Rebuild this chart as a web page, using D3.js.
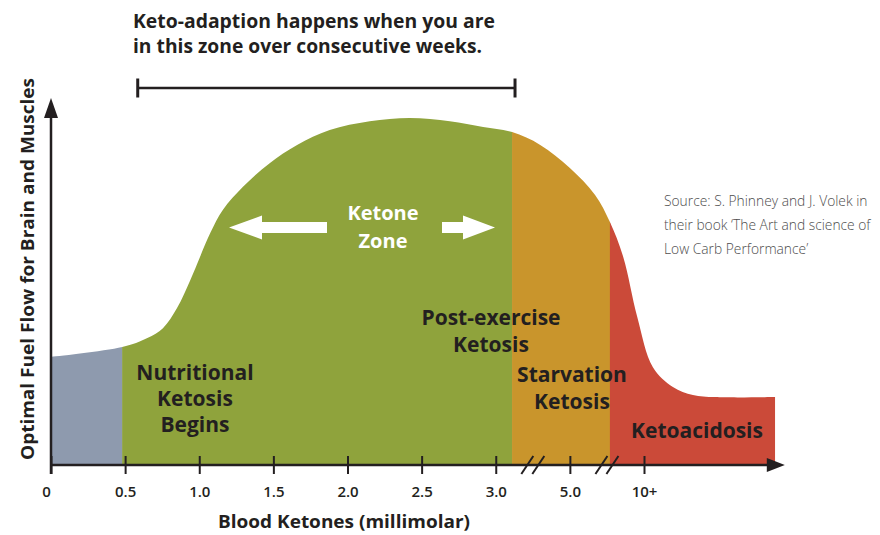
<!DOCTYPE html>
<html lang="en">
  <head>
    <meta charset="UTF-8" />
    <title>Blood Ketones vs Optimal Fuel Flow</title>
    <script src="https://d3js.org/d3.v7.min.js"></script>
    <style>
      body {
        margin: 0;
        background: #fff;
        font-family: 'Open Sans', sans-serif;
      }
      .dark {
        fill: #231f20;
        font-weight: bold;
      }
    </style>
  </head>
  <body>
    <svg width="880" height="535"></svg>

    <script>
      // tick positions are evenly spaced, the axis is broken after 3.0 and 5.0
      const tickLabels = ['0', '0.5', '1.0', '1.5', '2.0', '2.5', '3.0', '5.0', '10+'];
      const axisBreaks = [6.5, 7.5];

      // fuel flow curve (x in tick units, y in 0-100)
      const curveX = [0, 0.96, 1.3, 1.51, 1.7, 1.88, 2.01, 2.15, 2.32, 2.59, 2.95, 3.32, 3.76, 4.3, 4.84, 5.38, 5.83, 6.22, 6.6, 7.0, 7.34, 7.54, 7.72, 7.91, 8.12, 8.39, 8.66, 8.96, 9.77];
      const curveY = [29.6, 32.3, 34.8, 37.5, 43.0, 50.7, 57.0, 63.6, 69.9, 76.2, 82.7, 87.7, 91.8, 94.2, 95.1, 94.2, 92.6, 91.2, 87.7, 81.4, 74.0, 66.6, 57.0, 40.5, 26.8, 21.4, 19.2, 18.6, 18.6];

      const zoneStops = [0, 0.96, 6.22, 7.54, 9.77];
      const zoneColors = ['#8e9aae', '#8fa33c', '#c9952c', '#cb4a39'];

      const bracketRange = [1.17, 6.26];

      const svg = d3.select('svg');

      const x = d3.scaleLinear().domain([0, 8]).range([51, 644]);
      const y = d3.scaleLinear().domain([0, 100]).range([465, 100]);

      const points = curveX.map((d, i) => [d, curveY[i]]);

      const area = d3
        .area()
        .x((d) => x(d[0]))
        .y0(y(0))
        .y1((d) => y(d[1]))
        .curve(d3.curveCatmullRom.alpha(0.5));

      const defs = svg.append('defs');
      zoneColors.forEach((c, i) => {
        defs
          .append('clipPath')
          .attr('id', 'zone' + i)
          .append('rect')
          .attr('x', x(zoneStops[i]))
          .attr('y', 0)
          .attr('width', x(zoneStops[i + 1]) - x(zoneStops[i]) + (i < 3 ? 0.5 : 0))
          .attr('height', 535);

        svg
          .append('path')
          .datum(points)
          .attr('d', area)
          .attr('fill', c)
          .attr('clip-path', `url(#zone${i})`);
      });

      // zone labels
      function label(lines, cx, baseline, size, color, step) {
        const t = svg
          .append('text')
          .attr('class', 'dark')
          .attr('text-anchor', 'middle')
          .style('font-size', size + 'px')
          .style('fill', color);
        lines.forEach((l, i) => {
          t.append('tspan')
            .attr('x', cx)
            .attr('y', baseline + i * step)
            .text(l);
        });
      }

      label(['Nutritional', 'Ketosis', 'Begins'], 195, 380, 21, '#231f20', 26);
      label(['Post-exercise', 'Ketosis'], 491, 325, 21, '#231f20', 27);
      label(['Starvation', 'Ketosis'], 572, 382, 21, '#231f20', 27);
      label(['Ketoacidosis'], 697, 438, 21, '#231f20', 27);
      label(['Ketone', 'Zone'], 383, 220, 20, '#ffffff', 28);

      // white arrows in the ketone zone
      const arrowY = 227.5;
      svg
        .append('path')
        .attr('fill', '#fff')
        .attr(
          'd',
          `M229,${arrowY} L262,${arrowY - 12} L262,${arrowY - 5.5} L327,${arrowY - 5.5} L327,${arrowY + 5.5} L262,${arrowY + 5.5} L262,${arrowY + 12} Z`,
        );
      svg
        .append('path')
        .attr('fill', '#fff')
        .attr(
          'd',
          `M495,${arrowY} L463,${arrowY - 12} L463,${arrowY - 5.5} L442,${arrowY - 5.5} L442,${arrowY + 5.5} L463,${arrowY + 5.5} L463,${arrowY + 12} Z`,
        );

      // x axis
      const xAxis = svg
        .append('g')
        .attr('transform', `translate(0,${y(0)})`)
        .call(
          d3
            .axisBottom(x)
            .tickValues(d3.range(tickLabels.length))
            .tickFormat((i) => tickLabels[i])
            .tickSize(9)
            .tickPadding(12),
        );
      xAxis.select('.domain').remove();
      xAxis
        .selectAll('.tick line')
        .attr('y1', -9)
        .attr('stroke', '#231f20')
        .attr('stroke-width', 2);
      xAxis
        .selectAll('.tick text')
        .style('font-family', "'Open Sans', sans-serif")
        .style('font-size', '15px')
        .style('font-weight', 600)
        .style('fill', '#231f20');
      xAxis
        .selectAll('.tick text')
        .filter((d) => d === 0)
        .attr('dx', -5);

      svg
        .append('line')
        .attr('x1', x(0) - 1)
        .attr('x2', x(9.7))
        .attr('y1', y(0))
        .attr('y2', y(0))
        .attr('stroke', '#231f20')
        .attr('stroke-width', 2.5);
      svg
        .append('path')
        .attr('fill', '#231f20')
        .attr('d', `M${x(9.9)},${y(0)} L${x(9.9) - 18},${y(0) - 7} L${x(9.9) - 18},${y(0) + 7} Z`);

      // break marks
      axisBreaks.forEach((b) => {
        [-5.5, 5.5].forEach((o) => {
          svg
            .append('line')
            .attr('x1', x(b) + o - 6)
            .attr('y1', y(0) + 9)
            .attr('x2', x(b) + o + 6)
            .attr('y2', y(0) - 9)
            .attr('stroke', '#231f20')
            .attr('stroke-width', 2);
        });
      });

      // y axis
      svg
        .append('line')
        .attr('x1', x(0))
        .attr('x2', x(0))
        .attr('y1', y(0) + 9)
        .attr('y2', y(100) + 17)
        .attr('stroke', '#231f20')
        .attr('stroke-width', 2.5);
      svg
        .append('path')
        .attr('fill', '#231f20')
        .attr('d', `M${x(0)},${y(100) - 2} L${x(0) - 7},${y(100) + 18} L${x(0) + 7},${y(100) + 18} Z`);

      // axis titles
      svg
        .append('text')
        .attr('class', 'dark')
        .attr('x', 344)
        .attr('y', 528)
        .attr('text-anchor', 'middle')
        .attr('textLength', 252)
        .attr('lengthAdjust', 'spacingAndGlyphs')
        .style('font-size', '17px')
        .text('Blood Ketones (millimolar)');

      svg
        .append('text')
        .attr('class', 'dark')
        .attr('transform', 'rotate(-90)')
        .attr('x', -269)
        .attr('y', 34)
        .attr('text-anchor', 'middle')
        .attr('textLength', 382)
        .attr('lengthAdjust', 'spacingAndGlyphs')
        .style('font-size', '17px')
        .text('Optimal Fuel Flow for Brain and Muscles');

      // keto-adaption bracket and note
      const by = 88;
      svg
        .append('line')
        .attr('x1', x(bracketRange[0]))
        .attr('x2', x(bracketRange[1]))
        .attr('y1', by)
        .attr('y2', by)
        .attr('stroke', '#231f20')
        .attr('stroke-width', 2.5);
      bracketRange.forEach((b) => {
        svg
          .append('line')
          .attr('x1', x(b))
          .attr('x2', x(b))
          .attr('y1', by - 9.5)
          .attr('y2', by + 9.5)
          .attr('stroke', '#231f20')
          .attr('stroke-width', 3);
      });

      const note = ['Keto-adaption happens when you are', 'in this zone over consecutive weeks.'];
      const noteWidths = [362, 349];
      note.forEach((l, i) => {
        svg
          .append('text')
          .attr('class', 'dark')
          .attr('x', 133)
          .attr('y', 28 + i * 25)
          .attr('textLength', noteWidths[i])
          .attr('lengthAdjust', 'spacingAndGlyphs')
          .style('font-size', '19px')
          .text(l);
      });

      // source
      const source = [
        'Source: S. Phinney and J. Volek in',
        'their book \u2018The Art and science of',
        'Low Carb Performance\u2019',
      ];
      source.forEach((l, i) => {
        svg
          .append('text')
          .attr('x', 664)
          .attr('y', 206 + i * 24)
          .style('font-size', '13.8px')
          .style('font-weight', 300)
          .style('fill', '#4d4d4d')
          .text(l);
      });
    </script>
  </body>
</html>
